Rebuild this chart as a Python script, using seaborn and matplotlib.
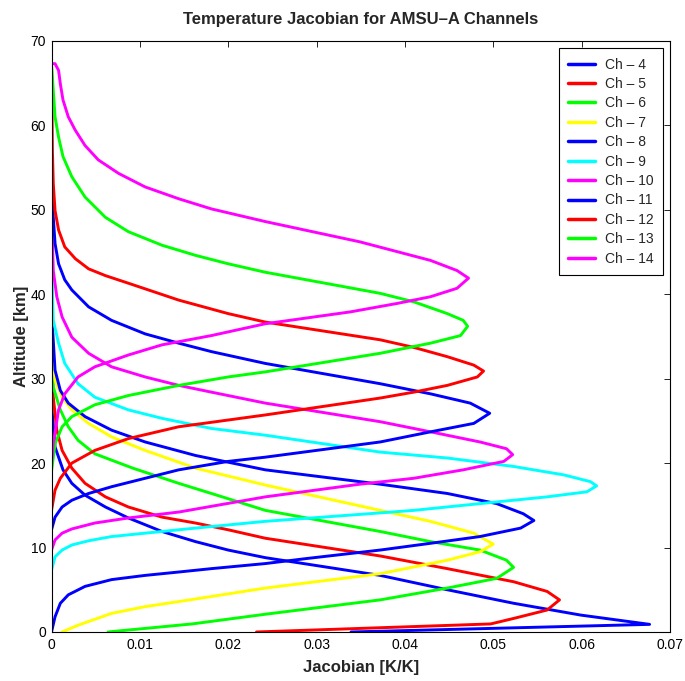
import matplotlib
matplotlib.use("Agg")
import matplotlib.pyplot as plt
import seaborn as sns
import pandas as pd

# ---- data ----
channels = ["Ch – 4", "Ch – 5", "Ch – 6", "Ch – 7", "Ch – 8", "Ch – 9",
            "Ch – 10", "Ch – 11", "Ch – 12", "Ch – 13", "Ch – 14"]
colors = ["#0000ff", "#ff0000", "#00ff00", "#ffff00", "#0000ff", "#00ffff",
          "#ff00ff", "#0000ff", "#ff0000", "#00ff00", "#ff00ff"]

ch4_jac = [0.0339, 0.0677, 0.0599, 0.0523, 0.0448, 0.0372, 0.0242, 0.0200, 0.0163, 0.0125, 0.0087, 0.0061, 0.0038, 0.0023, 0.0013, 0.0004, 0.0]
ch4_alt = [0.0, 0.9, 2.0, 3.4, 5.0, 6.7, 8.8, 9.7, 10.7, 11.9, 13.5, 14.8, 16.2, 17.6, 19.2, 21.9, 27.0]

ch5_jac = [0.0232, 0.0497, 0.0523, 0.0561, 0.0575, 0.0561, 0.0523, 0.0448, 0.0372, 0.0242, 0.0200, 0.0163, 0.0125, 0.0087, 0.0061, 0.0038, 0.0023, 0.0012, 0.0006, 0.0002, 0.0]
ch5_alt = [0.0, 0.95, 1.6, 2.6, 3.8, 4.8, 5.95, 7.5, 9.0, 11.1, 12.1, 12.9, 13.6, 14.8, 16.0, 17.6, 19.4, 21.5, 23.9, 27.8, 33.0]

ch6_jac = [0.0064, 0.0159, 0.0242, 0.0372, 0.0448, 0.0504, 0.0523, 0.0515, 0.0485, 0.0429, 0.0372, 0.0242, 0.0181, 0.0144, 0.0092, 0.0049, 0.0030, 0.0019, 0.0010, 0.0002, 0.0]
ch6_alt = [0.0, 0.95, 2.1, 3.8, 5.2, 6.35, 7.65, 8.5, 9.7, 10.7, 11.9, 14.4, 16.4, 17.6, 19.4, 21.1, 22.7, 24.3, 26.3, 29.0, 34.0]

ch7_jac = [0.0012, 0.0030, 0.0068, 0.0106, 0.0144, 0.0181, 0.0242, 0.0372, 0.0410, 0.0448, 0.0485, 0.0500, 0.0478, 0.0429, 0.0372, 0.0242, 0.0163, 0.0106, 0.0068, 0.0042, 0.0023, 0.0012, 0.0004, 0.0]
ch7_alt = [0.0, 0.8, 2.2, 3.0, 3.6, 4.2, 5.2, 6.9, 7.7, 8.5, 9.5, 10.4, 11.7, 13.1, 14.4, 17.4, 19.4, 21.5, 23.1, 24.7, 26.3, 27.8, 29.8, 34.0]

ch8_jac = [0.0, 0.0004, 0.0010, 0.0019, 0.0038, 0.0068, 0.0106, 0.0144, 0.0181, 0.0242, 0.0289, 0.0372, 0.0429, 0.0485, 0.0531, 0.0546, 0.0534, 0.0504, 0.0448, 0.0372, 0.0242, 0.0163, 0.0106, 0.0068, 0.0038, 0.0019, 0.0010, 0.0004, 0.0]
ch8_alt = [0.0, 1.8, 3.4, 4.4, 5.4, 6.2, 6.7, 7.1, 7.5, 8.1, 8.7, 9.7, 10.5, 11.3, 12.3, 13.2, 14.0, 15.2, 16.4, 17.5, 19.2, 20.9, 22.5, 23.9, 25.5, 27.1, 28.6, 31.0, 38.0]

ch9_jac = [0.0, 0.0004, 0.0012, 0.0023, 0.0042, 0.0068, 0.0106, 0.0163, 0.0242, 0.0372, 0.0410, 0.0485, 0.0561, 0.0606, 0.0617, 0.0610, 0.0580, 0.0523, 0.0448, 0.0372, 0.0242, 0.0181, 0.0125, 0.0087, 0.0049, 0.0030, 0.0015, 0.0008, 0.0002, 0.0]
ch9_alt = [7.3, 8.9, 9.7, 10.3, 10.8, 11.3, 11.7, 12.3, 13.1, 14.1, 14.4, 15.2, 16.0, 16.6, 17.3, 17.8, 18.6, 19.6, 20.6, 21.3, 23.3, 24.1, 25.3, 26.3, 27.8, 29.4, 31.8, 34.2, 36.9, 45.0]

ch10_jac = [0.0, 0.0004, 0.0012, 0.0023, 0.0049, 0.0087, 0.0144, 0.0242, 0.0349, 0.0410, 0.0466, 0.0512, 0.0522, 0.0515, 0.0485, 0.0429, 0.0372, 0.0242, 0.0181, 0.0144, 0.0106, 0.0068, 0.0042, 0.0023, 0.0012, 0.0006, 0.0002, 0.0]
ch10_alt = [9.7, 10.9, 11.7, 12.2, 12.9, 13.5, 14.2, 16.0, 17.5, 18.2, 19.2, 20.2, 21.0, 21.7, 22.5, 23.7, 24.9, 27.1, 28.4, 29.2, 30.2, 31.4, 33.0, 34.9, 37.3, 39.7, 42.8, 50.0]

ch11_jac = [0.0, 0.0004, 0.0012, 0.0023, 0.0042, 0.0068, 0.0106, 0.0144, 0.0200, 0.0242, 0.0372, 0.0429, 0.0478, 0.0496, 0.0474, 0.0429, 0.0372, 0.0242, 0.0181, 0.0144, 0.0106, 0.0068, 0.0042, 0.0023, 0.0015, 0.0008, 0.0004, 0.0002, 0.0]
ch11_alt = [12.1, 13.6, 14.8, 15.6, 16.4, 17.2, 18.2, 19.2, 20.2, 20.7, 22.5, 23.7, 24.7, 25.9, 27.1, 28.2, 29.4, 31.8, 33.2, 34.2, 35.3, 36.9, 38.5, 40.5, 41.7, 43.6, 46.0, 49.1, 56.0]

ch12_jac = [0.0, 0.0004, 0.0010, 0.0023, 0.0049, 0.0087, 0.0144, 0.0200, 0.0242, 0.0372, 0.0410, 0.0448, 0.0482, 0.0489, 0.0478, 0.0448, 0.0410, 0.0372, 0.0242, 0.0200, 0.0144, 0.0087, 0.0061, 0.0042, 0.0027, 0.0015, 0.0008, 0.0004, 0.0002, 0.0001, 0.0]
ch12_alt = [14.4, 16.8, 18.2, 20.0, 21.5, 22.9, 24.3, 25.1, 25.7, 27.7, 28.4, 29.2, 30.2, 30.9, 31.6, 32.6, 33.7, 34.6, 36.7, 37.7, 39.3, 41.3, 42.2, 43.0, 44.2, 45.6, 47.6, 49.9, 53.1, 57.0, 67.3]

ch13_jac = [0.0, 0.0004, 0.0012, 0.0023, 0.0049, 0.0087, 0.0144, 0.0200, 0.0242, 0.0372, 0.0429, 0.0463, 0.0471, 0.0466, 0.0448, 0.0410, 0.0372, 0.0242, 0.0200, 0.0163, 0.0125, 0.0087, 0.0061, 0.0038, 0.0023, 0.0013, 0.0008, 0.0004, 0.0002, 0.0]
ch13_alt = [19.0, 22.3, 24.3, 25.5, 26.9, 28.0, 29.2, 30.2, 30.8, 33.0, 34.2, 35.1, 36.2, 36.9, 37.7, 39.1, 40.1, 42.6, 43.6, 44.6, 45.8, 47.4, 49.1, 51.5, 53.9, 56.3, 58.6, 61.0, 64.1, 67.3]

ch14_jac = [0.0, 0.0002, 0.0008, 0.0015, 0.0030, 0.0049, 0.0087, 0.0125, 0.0181, 0.0242, 0.0338, 0.0391, 0.0429, 0.0459, 0.0472, 0.0459, 0.0429, 0.0349, 0.0242, 0.0181, 0.0144, 0.0106, 0.0076, 0.0053, 0.0038, 0.0027, 0.0019, 0.0013, 0.0010, 0.0008, 0.0004, 0.0]
ch14_alt = [20.0, 22.3, 26.3, 28.2, 30.2, 31.4, 32.8, 34.0, 35.1, 36.5, 37.9, 38.9, 39.7, 40.7, 41.9, 42.8, 44.0, 46.2, 48.6, 50.1, 51.3, 52.7, 54.3, 55.9, 57.6, 59.4, 61.0, 63.0, 64.9, 66.5, 67.3, 67.3]

series = [(ch4_jac, ch4_alt), (ch5_jac, ch5_alt), (ch6_jac, ch6_alt), (ch7_jac, ch7_alt),
          (ch8_jac, ch8_alt), (ch9_jac, ch9_alt), (ch10_jac, ch10_alt), (ch11_jac, ch11_alt),
          (ch12_jac, ch12_alt), (ch13_jac, ch13_alt), (ch14_jac, ch14_alt)]

frames = []
for name, (jac, alt) in zip(channels, series):
    frames.append(pd.DataFrame({"Jacobian": jac, "Altitude": alt, "Channel": name}))
df = pd.concat(frames, ignore_index=True)

# ---- style ----
sns.set_style("white")
plt.rcParams["font.family"] = ["Liberation Sans", "DejaVu Sans"]

fig = plt.figure(figsize=(6.85, 6.81), dpi=100)
ax = fig.add_axes([0.0752, 0.072, 0.9028, 0.868])

sns.lineplot(data=df, x="Jacobian", y="Altitude", hue="Channel", hue_order=channels,
             palette=dict(zip(channels, colors)), sort=False, estimator=None,
             linewidth=2.1, ax=ax)
for ln in ax.get_lines():
    ln.set_solid_joinstyle("round")

ax.set_xlim(0, 0.07)
ax.set_ylim(0, 70)
ax.set_xticks([0, 0.01, 0.02, 0.03, 0.04, 0.05, 0.06, 0.07])
ax.set_xticklabels(["0", "0.01", "0.02", "0.03", "0.04", "0.05", "0.06", "0.07"])
ax.set_yticks(range(0, 71, 10))
ax.tick_params(axis="both", direction="in", length=4.5, width=0.6, colors="black",
               labelsize=10, top=True, right=True, pad=4)
for s in ax.spines.values():
    s.set_color("black")
    s.set_linewidth(0.8)

ax.set_xlabel("Jacobian [K/K]", fontsize=12, fontweight="bold", labelpad=6)
ax.set_ylabel("Altitude [km]", fontsize=12, fontweight="bold", labelpad=1)
ax.set_title("Temperature Jacobian for AMSU–A Channels", fontsize=12,
             fontweight="bold", pad=12)

leg = ax.legend(loc="upper right", frameon=True, fancybox=False, fontsize=10,
                handlelength=1.95, handletextpad=0.65, labelspacing=0.39,
                borderaxespad=0.5, borderpad=0.7, edgecolor="black", framealpha=1)
leg.get_frame().set_linewidth(0.8)
for line in leg.get_lines():
    line.set_linewidth(2.5)

fig.savefig("out.png", dpi=100)
